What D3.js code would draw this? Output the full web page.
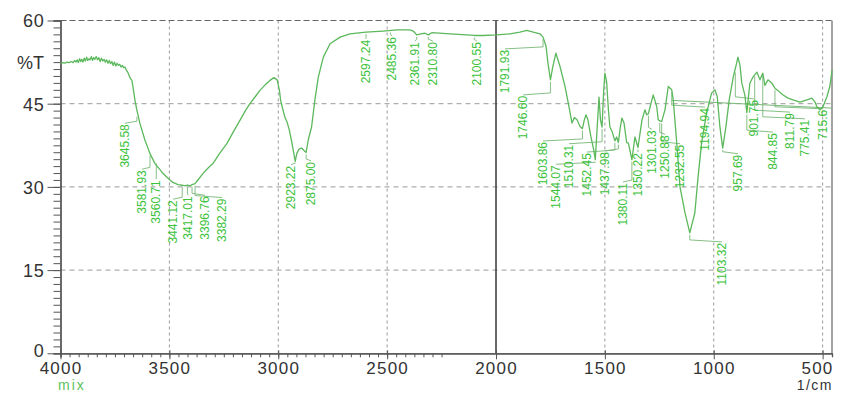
<!DOCTYPE html>
<html><head><meta charset="utf-8">
<script src="https://cdn.jsdelivr.net/npm/d3@7"></script>
<style>body{margin:0;background:#fff} svg{display:block}</style>
</head><body><svg id="c" width="841" height="393"></svg>
<script>
// ---- data ----
const spectrumWn = [4000,3990,3980,3970,3960,3950,3942,3935,3929,3923,3918,3912,3907,3902,3897,3891,3886,3880,3875,3870,3864,3858,3853,3848,3842,3836,3830,3824,3818,3812,3806,3800,3794,3788,3782,3776,3770,3764,3758,3752,3746,3740,3734,3728,3722,3716,3710,3704,3698,3690,3680,3672,3665,3658,3649,3635,3612,3589,3566,3545,3529,3505,3484,3460,3441,3430,3417,3405,3396,3382,3370,3346,3320,3300,3270,3236,3205,3176,3150,3130,3105,3084,3060,3038,3020,3005,2995,2989,2979,2969,2958,2949,2940,2931,2922,2915,2905,2893,2883,2872,2862,2847,2832,2816,2793,2762,2716,2671,2597,2518,2456,2395,2380,2364,2346,2326,2311,2295,2211,2135,2100,2058,1997,1936,1890,1859,1829,1798,1784,1770,1762,1750,1740,1725,1706,1683,1668,1651,1640,1628,1614,1603,1595,1587,1578,1564,1552,1544,1536,1527,1520,1513,1506,1500,1492,1484,1477,1467,1454,1446,1438,1430,1422,1412,1400,1392,1376,1362,1348,1330,1316,1308,1300,1292,1278,1262,1255,1248,1239,1224,1209,1193,1186,1170,1155,1132,1110,1087,1072,1056,1033,1010,995,984,972,959,944,929,910,895,889,880,871,857,848,840,834,820,802,788,775,765,751,733,719,706,683,659,636,604,572,549,535,526,512,499,480,467,457];
const spectrumT = [52.3,52.4,52.3,52.5,52.4,52.6,52.4,52.8,52.5,52.9,52.4,53.1,52.6,53.0,52.5,53.2,52.7,53.4,52.8,53.1,52.9,53.5,52.8,53.3,53.0,53.5,52.9,53.3,52.6,53.2,52.7,53.0,52.5,52.9,52.3,52.8,52.2,52.6,51.9,52.5,51.8,52.3,51.9,52.1,51.6,51.9,51.5,51.6,51.1,50.6,49.6,49.2,47.5,45.6,43.8,41.4,38.4,36.0,34.2,33.2,32.4,31.5,30.8,30.4,30.3,30.2,30.3,30.2,30.4,30.6,31.2,32.4,33.5,34.2,36.0,37.8,40.0,42.0,43.8,45.0,46.3,47.4,48.4,49.2,49.7,49.3,47.5,45.6,44.0,42.5,41.5,40.2,38.5,36.6,34.6,36.0,36.8,37.0,36.6,36.2,38.5,40.8,45.6,49.8,53.4,55.8,57.0,57.6,57.9,58.1,58.3,58.3,58.1,57.4,57.6,57.7,57.4,57.8,57.6,57.4,57.3,57.3,57.4,57.6,57.9,58.2,57.9,57.6,57.0,55.3,52.5,49.3,51.5,54.1,51.7,48.1,45.1,41.5,42.5,42.1,40.9,40.5,42.0,43.0,42.1,39.0,36.8,34.9,40.3,46.2,42.0,40.8,47.0,50.5,49.0,44.0,40.8,40.0,38.3,39.0,38.0,40.5,42.4,41.5,38.0,37.9,34.9,39.0,37.1,42.0,43.9,43.0,43.2,44.5,46.6,44.5,42.1,41.9,41.8,43.9,48.1,47.5,45.7,37.9,30.0,25.3,21.7,25.3,31.8,37.9,43.3,46.9,47.5,46.3,40.9,37.0,40.9,45.7,49.9,52.3,53.4,52.0,48.7,46.5,43.4,46.5,48.7,49.8,50.7,49.3,50.5,48.3,49.3,48.7,47.8,47.4,46.6,46.0,45.7,45.3,45.7,46.0,45.3,44.4,43.9,44.4,46.3,48.1,51.0];

const peakLabels = ["3645.58","3581.93","3560.71","3441.12","3417.01","3396.76","3382.29","2923.22","2875.00","2597.24","2485.36","2361.91","2310.80","2100.55","1791.93","1746.60","1603.86","1544.07","1510.31","1452.45","1437.98","1380.11","1350.22","1301.03","1250.88","1232.55","1194.94","1103.32","957.69","901.75","844.85","811.79","775.41","715.6"];
const peakWn =   [3649,3589,3560,3441,3417,3396,3382,2922,2872,2597,2485,2364,2311,2100,1784,1750,1603,1544,1513,1454,1438,1376,1348,1300,1248,1239,1193,1110,959,901,848,812,775,719];
const peakT =    [43.0,36.0,34.6,30.3,30.3,30.4,30.6,34.6,36.2,57.9,58.2,57.4,57.4,57.3,57.0,49.3,40.5,34.9,40.8,38.3,38.0,34.9,37.1,43.2,41.9,41.8,47.5,21.7,37.0,51.0,43.4,50.3,50.5,47.8];
const labelWn =  [3704,3626,3561,3483,3414,3336,3258,2941,2849,2597,2478,2373,2290,2088,1959,1876,1784,1725,1665,1583,1500,1417,1348,1284,1224,1155,1040,962,889,816,728,650,581,498];
const labelTopT =[41.3,33.0,31.2,27.6,28.3,28.3,27.9,33.8,34.5,56.5,57.0,56.1,56.1,56.1,54.7,46.4,38.1,33.9,37.6,36.1,36.3,30.7,36.1,40.2,39.3,37.6,44.2,19.9,35.8,45.7,39.7,43.3,42.1,43.9];
const guideLineWn = [1193, 457];
const guideLineT = [45.6, 44.2];

const xTickValues = [4000,3500,3000,2500,2000,1500,1000,500];
const yTickValues = [0,15,30,45,60];
const gridX = [3500,3000,2500,1500,1000,500];
const gridY = [15,30,45];

// ---- chart ----
const svg = d3.select("#c");
const x = d3.scaleLinear().domain([4000,457]).range([60.5,832]);
const y = d3.scaleLinear().domain([0,60]).range([353.3,20.5]);
const L = x.range()[0], R = x.range()[1], T = y(60), B = y(0);
const axisColor = "#555";
const font = "'Liberation Sans', Arial, sans-serif";

// grid
svg.append("g").selectAll("line").data(gridX).join("line")
  .attr("x1", d=>x(d)).attr("x2", d=>x(d)).attr("y1", T).attr("y2", B)
  .attr("stroke","#9a9a9a").attr("stroke-width",1).attr("stroke-dasharray","3,3");
svg.append("g").selectAll("line").data(gridY).join("line")
  .attr("x1", L).attr("x2", R).attr("y1", d=>y(d)).attr("y2", d=>y(d))
  .attr("stroke","#9a9a9a").attr("stroke-width",1).attr("stroke-dasharray","5,4");
svg.append("line").attr("x1",L).attr("x2",R).attr("y1",T).attr("y2",T)
  .attr("stroke","#666").attr("stroke-width",1.2).attr("stroke-dasharray","6,3");
svg.append("line").attr("x1",R).attr("x2",R).attr("y1",T).attr("y2",B)
  .attr("stroke","#666").attr("stroke-width",1.2);
svg.append("line").attr("x1",x(2000)).attr("x2",x(2000)).attr("y1",T).attr("y2",B)
  .attr("stroke","#444").attr("stroke-width",1.6);

// axes
const xMinor = d3.range(0,43).map(i=>4000 - i*500/12).filter(v=>v>=457);
const yMinor = d3.range(0,49).map(i=>i*1.25);
const gxMinor = svg.append("g").attr("transform",`translate(0,${B})`)
  .call(d3.axisBottom(x).tickValues(xMinor).tickSize(4).tickFormat(""));
const gx = svg.append("g").attr("transform",`translate(0,${B})`)
  .call(d3.axisBottom(x).tickValues(xTickValues).tickSize(6).tickSizeOuter(0).tickFormat(d3.format("d")));
const gyMinor = svg.append("g").attr("transform",`translate(${L},0)`)
  .call(d3.axisLeft(y).tickValues(yMinor).tickSize(7).tickFormat(""));
const gy = svg.append("g").attr("transform",`translate(${L},0)`)
  .call(d3.axisLeft(y).tickValues(yTickValues).tickSize(13).tickSizeOuter(0).tickFormat(d3.format("d")));
[gxMinor,gx,gyMinor,gy].forEach(g=>{
  g.selectAll("path.domain").attr("stroke",axisColor).attr("stroke-width",1.3);
  g.selectAll(".tick line").attr("stroke",axisColor).attr("stroke-width",1);
});
gx.selectAll(".tick line").attr("y1",-3);
gx.selectAll(".tick text").attr("y",20.5).attr("dy",null)
  .attr("font-family",font).attr("font-size",17).attr("letter-spacing","1.2px").attr("fill","#333");
gx.selectAll(".tick").filter(d=>d===500).select("text").attr("text-anchor","end").attr("x", R - x(500) + 1);
gy.selectAll(".tick text").attr("x",-16).attr("dy","0.36em")
  .attr("font-family",font).attr("font-size",18).attr("letter-spacing","0.8px").attr("fill","#333");
gy.selectAll(".tick").filter(d=>d===0).select("text").attr("dy","0.2em");

svg.append("text").attr("x",44).attr("y",y(52.4)).attr("dy","0.36em").attr("text-anchor","end")
  .attr("font-family",font).attr("font-size",18).attr("fill","#333").text("%T");
svg.append("text").attr("x",58).attr("y",390)
  .attr("font-family",font).attr("font-size",14).attr("letter-spacing","2px").attr("fill","#5cc25c").text("mix");
svg.append("text").attr("x",833).attr("y",390).attr("text-anchor","end")
  .attr("font-family",font).attr("font-size",14).attr("letter-spacing","1.5px").attr("fill","#333").text("1/cm");

// leaders
const leaderColor = "#78b878";
const lg = svg.append("g");
peakLabels.forEach((lab,i)=>{
  const xt=x(labelWn[i]), yt=y(labelTopT[i]), xp=x(peakWn[i]), yp=y(peakT[i]);
  const yk = yt-3;
  lg.append("path").attr("d",`M${xt},${yt-1}L${xp},${yk}L${xp},${yp + (yp<yk?2:-2)}`)
    .attr("fill","none").attr("stroke",leaderColor).attr("stroke-width",0.9);
});
svg.append("line")
  .attr("x1",x(guideLineWn[0])).attr("y1",y(guideLineT[0]))
  .attr("x2",x(guideLineWn[1])).attr("y2",y(guideLineT[1]))
  .attr("stroke",leaderColor).attr("stroke-width",1);

// spectrum
const pts = spectrumWn.map((w,i)=>[w,spectrumT[i]]);
svg.append("path").datum(pts)
  .attr("d", d3.line().x(d=>x(d[0])).y(d=>y(d[1])))
  .attr("fill","none").attr("stroke","#5cb85c").attr("stroke-width",1.3).attr("stroke-linejoin","round");

// labels
svg.append("g").selectAll("text").data(peakLabels).join("text")
  .attr("transform",(d,i)=>`translate(${x(labelWn[i])},${y(labelTopT[i])}) rotate(-90)`)
  .attr("text-anchor","end").attr("dy","0.35em")
  .attr("font-family",font).attr("font-size",12).attr("fill","#3cc23c")
  .text(d=>d);
</script></body></html>
